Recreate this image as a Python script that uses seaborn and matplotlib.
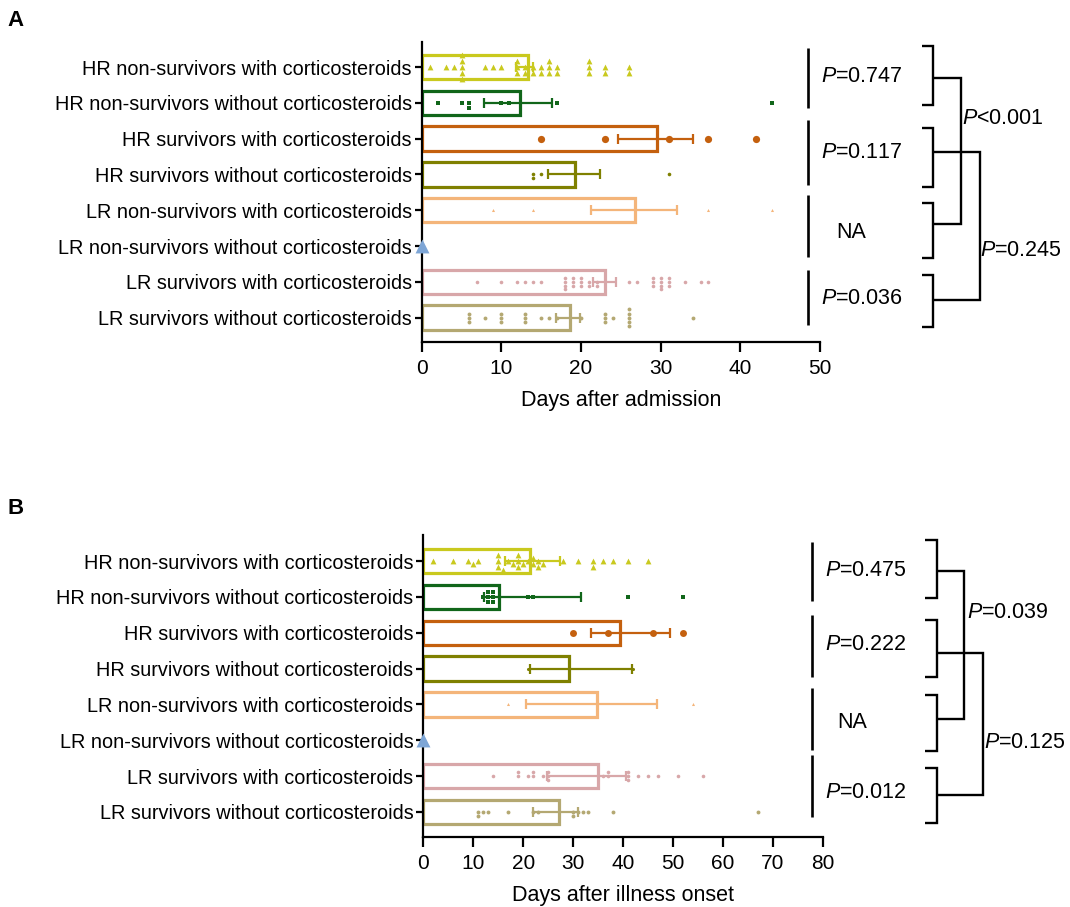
import numpy as np
import matplotlib.pyplot as plt
import seaborn as sns
from matplotlib.lines import Line2D

sns.set_style("ticks")
plt.rcParams['font.family'] = ['Liberation Sans', 'DejaVu Sans']
plt.rcParams['mathtext.fontset'] = 'custom'
plt.rcParams['mathtext.rm'] = 'Liberation Sans'
plt.rcParams['mathtext.it'] = 'Liberation Sans:italic'
plt.rcParams['text.color'] = 'black'
plt.rcParams['axes.labelcolor'] = 'black'
plt.rcParams['xtick.color'] = 'black'
plt.rcParams['ytick.color'] = 'black'

# groups (top to bottom)
groups = ["HR non-survivors with corticosteroids",
          "HR non-survivors without corticosteroids",
          "HR survivors with corticosteroids",
          "HR survivors without corticosteroids",
          "LR non-survivors with corticosteroids",
          "LR non-survivors without corticosteroids",
          "LR survivors with corticosteroids",
          "LR survivors without corticosteroids"]
colors = ['#C9C91E', '#11661A', '#C4600E', '#7F8000',
          '#F4B57A', '#7EA6D6', '#D8A7A9', '#B4A872']
markers = ['^', 's', 'o', 'o', '^', '^', 'o', 'o']

# A: days after admission
adm_mean = [13.3, 12.3, 29.5, 19.2, 26.8, 0, 23.0, 18.6]
adm_lo = [11.9, 7.8, 24.6, 15.9, 21.2, np.nan, 21.5, 16.9]
adm_hi = [14.0, 16.3, 34.0, 22.4, 32.1, np.nan, 24.4, 19.9]
adm_pts = [
    [1, 3, 4, 5, 5, 5, 5, 5, 8, 9, 10, 12, 12, 12, 13, 13, 14, 14,
     15, 15, 16, 16, 16, 17, 17, 21, 21, 21, 23, 23, 26, 26],
    [2, 5, 6, 6, 10, 11, 17, 44],
    [15, 23, 31, 36, 42],
    [14, 14, 15, 31],
    [9, 14, 36, 44],
    [0],
    [7, 10, 12, 13, 14, 15, 18, 18, 18, 18, 19, 19, 19, 20, 20, 20, 21, 21,
     22, 22, 26, 27, 29, 29, 29, 30, 30, 30, 30, 31, 31, 31, 33, 35, 36],
    [6, 6, 6, 8, 10, 10, 10, 13, 13, 13, 15, 16, 17, 20, 23, 23, 23, 24,
     26, 26, 26, 26, 26, 34],
]
adm_sizes = [4.2, 3.2, 5.2, 2.6, 2.2, 10, 2.6, 2.8]

# B: days after illness onset
ons_mean = [21.3, 15.2, 39.3, 29.2, 34.8, 0, 35.0, 27.2]
ons_lo = [16.3, 12.1, 33.5, 21.3, 20.6, np.nan, 24.8, 21.9]
ons_hi = [27.3, 31.5, 49.4, 41.8, 46.7, np.nan, 40.5, 31.0]
ons_pts = [
    [2, 6, 9, 10, 11, 15, 15, 15, 16, 17, 18, 19, 19, 19, 20, 21,
     22, 22, 23, 23, 24, 28, 31, 34, 34, 36, 38, 41, 45],
    [12, 13, 13, 13, 14, 14, 14, 21, 22, 41, 52],
    [30, 37, 46, 52],
    [21, 42],
    [17, 54],
    [0],
    [14, 19, 19, 21, 22, 22, 24, 25, 25, 25, 36, 37, 37, 41, 41, 41, 43,
     45, 47, 51, 56],
    [11, 11, 12, 13, 17, 22, 23, 30, 30, 31, 32, 33, 38, 67],
]
ons_sizes = [4.2, 3.2, 5.0, 2.2, 2.2, 10, 2.6, 2.8]


def draw_panel(ax, means, lo, hi, pts, sizes, xmax, xlabel):
    for i, g in enumerate(groups):
        sns.swarmplot(x=pts[i], y=[g] * len(pts[i]), order=groups, orient='h',
                      color=colors[i], marker=markers[i], size=sizes[i], ax=ax)
    sns.barplot(x=means, y=groups, hue=groups, palette=colors, order=groups,
                fill=False, width=0.68, linewidth=2.3, errorbar=None,
                legend=False, ax=ax)
    for p in ax.patches:
        if p.get_width() == 0:
            p.set_visible(False)
    for i in range(len(groups)):
        if np.isnan(lo[i]):
            continue
        ax.errorbar(means[i], i, xerr=[[means[i] - lo[i]], [hi[i] - means[i]]],
                    fmt='none', ecolor=colors[i], elinewidth=1.6, capsize=3.8,
                    capthick=1.6, zorder=4)
    # the lone point at 0 sits on the axis line, keep it whole and on top
    for c in ax.collections:
        c.set_clip_on(False)
        c.set_zorder(5)
    ax.set_xlim(0, xmax)
    ax.set_xticks(range(0, xmax + 1, 10))
    ax.set_xlabel(xlabel, fontsize=15.5, labelpad=9)
    ax.set_ylabel('')
    sns.despine(ax=ax)
    for s in ['left', 'bottom']:
        ax.spines[s].set_linewidth(1.6)
        ax.spines[s].set_color('black')
    ax.tick_params(axis='y', length=5, width=1.6, labelsize=14.3, pad=2)
    ax.tick_params(axis='x', length=7, width=1.6, labelsize=15, pad=5)


fig = plt.figure(figsize=(10.7, 9.07), dpi=100)
W, H = 1070, 907

ax_a = fig.add_axes([421.7 / W, 1 - 342 / H, (820 - 421.7) / W, 300 / H])
draw_panel(ax_a, adm_mean, adm_lo, adm_hi, adm_pts, adm_sizes, 50, 'Days after admission')
ax_a.set_ylim(7.68, -0.70)

ax_b = fig.add_axes([423.3 / W, 1 - 837 / H, (823 - 423.3) / W, 302 / H])
draw_panel(ax_b, ons_mean, ons_lo, ons_hi, ons_pts, ons_sizes, 80, 'Days after illness onset')
ax_b.set_ylim(7.70, -0.73)


# annotation helpers in pixel coordinates of the figure
def line(xs, ys, lw=1.7):
    fig.add_artist(Line2D([x / W for x in xs], [1 - y / H for y in ys],
                          transform=fig.transFigure, color='black', lw=lw,
                          solid_capstyle='butt', solid_joinstyle='miter'))


def label(x, y, s, ha='left'):
    fig.text(x / W, 1 - y / H, s, ha=ha, va='center', fontsize=15.5)


def bracket_block(sep_x, seps, br_x0, br_x1, brs, mids, texts, tx, links):
    for y0, y1 in seps:
        line([sep_x, sep_x], [y0, y1], lw=1.9)
    for (y0, y1), ym in zip(brs, mids):
        line([br_x0, br_x1, br_x1, br_x0], [y0, y0, y1, y1])
    for (s, y), x in zip(texts, tx):
        label(x, y, s, ha='left' if s != 'NA' else 'center')
    for xv, i, j, s, lx, ly in links:
        line([br_x1, xv, xv, br_x1], [mids[i], mids[i], mids[j], mids[j]])
        label(lx, ly, s)


bracket_block(808, [(48, 108), (120, 185), (195, 257), (270, 325)],
              922, 933, [(46, 105), (128, 187), (203, 258), (275, 327)],
              [78, 152, 224, 300],
              [(r'$\mathit{P}$=0.747', 77), (r'$\mathit{P}$=0.117', 153),
               ('NA', 233), (r'$\mathit{P}$=0.036', 299)],
              [821, 821, 851, 821],
              [(961, 0, 2, r'$\mathit{P}$<0.001', 962, 119),
               (980, 1, 3, r'$\mathit{P}$=0.245', 980, 250)])

bracket_block(812, [(542, 601), (615, 677), (688, 750), (755, 817)],
              925, 937, [(540, 598), (620, 677), (695, 751), (768, 823)],
              [571, 653, 719, 795],
              [(r'$\mathit{P}$=0.475', 570), (r'$\mathit{P}$=0.222', 645),
               ('NA', 723), (r'$\mathit{P}$=0.012', 792)],
              [825, 825, 852, 825],
              [(964, 0, 2, r'$\mathit{P}$=0.039', 967, 612),
               (983, 1, 3, r'$\mathit{P}$=0.125', 984, 743)])

fig.text(16 / W, 1 - 21 / H, 'A', fontsize=16, fontweight='bold', ha='center', va='center')
fig.text(16 / W, 1 - 508 / H, 'B', fontsize=16, fontweight='bold', ha='center', va='center')

fig.savefig('out.png', dpi=100)
